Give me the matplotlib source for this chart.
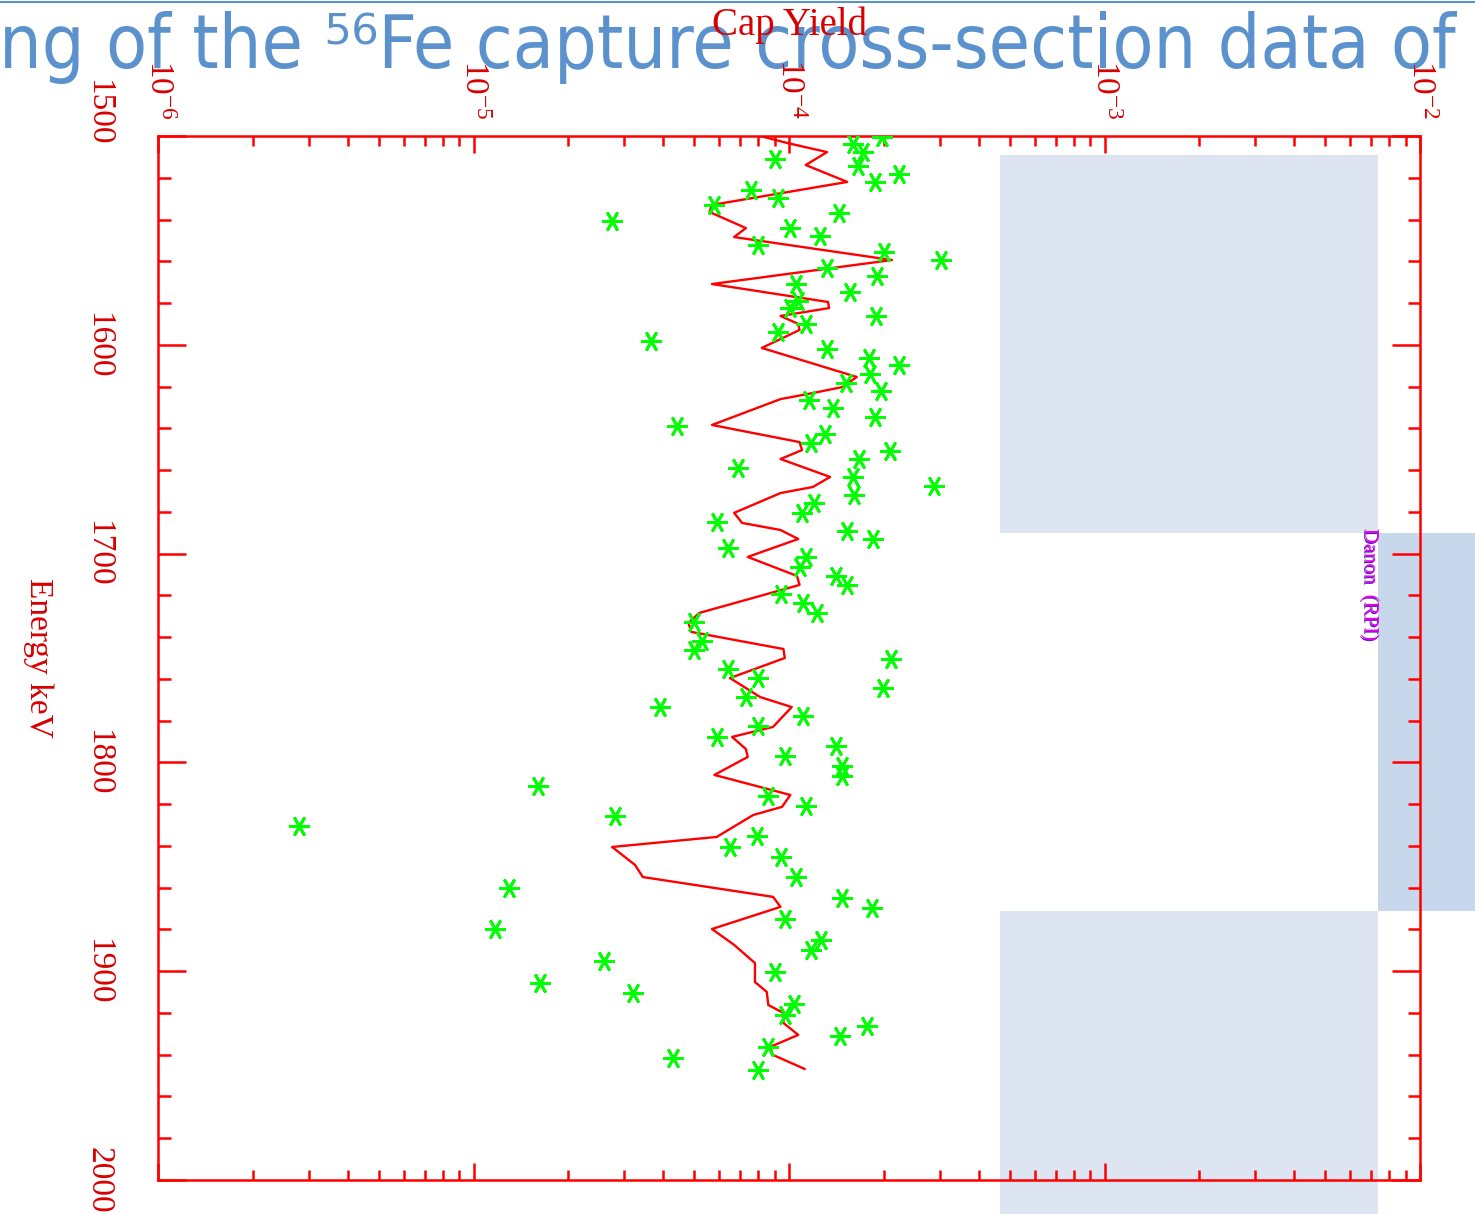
import matplotlib
matplotlib.use('Agg')
import matplotlib.pyplot as plt
import matplotlib.patheffects as pe
import matplotlib.transforms as mtransforms
from matplotlib import font_manager
from matplotlib.patches import Rectangle
from matplotlib.lines import Line2D
from matplotlib.ticker import MultipleLocator, LogLocator, NullFormatter, FixedLocator

# calculated capture yield (red curve)
line_energy = [1500.0, 1503.4, 1507.7, 1513.9, 1522.0, 1533.0, 1536.4, 1544.1, 1548.4, 1559.4,
               1570.9, 1579.5, 1582.4, 1586.2, 1590.0, 1592.9, 1601.5, 1615.4, 1620.2, 1623.1,
               1626.0, 1638.4, 1646.6, 1650.4, 1654.7, 1663.3, 1668.1, 1671.0, 1680.5, 1685.3,
               1688.7, 1693.0, 1701.6, 1710.7, 1715.0, 1728.4, 1733.2, 1737.5, 1745.7, 1750.0,
               1759.6, 1768.7, 1773.5, 1783.0, 1787.8, 1793.6, 1797.4, 1806.0, 1815.6, 1821.3,
               1825.2, 1835.7, 1840.5, 1849.1, 1854.9, 1864.4, 1869.2, 1879.8, 1887.4, 1896.1,
               1905.2, 1909.9, 1916.2, 1920.0, 1924.8, 1930.5, 1936.3, 1940.1, 1946.8]
line_yield = [8.1e-5, 9.9e-5, 1.32e-4, 1.13e-4, 1.53e-4, 5.7e-5, 5.6e-5, 7.3e-5, 6.7e-5, 2.12e-4,
              5.7e-5, 1.33e-4, 1.34e-4, 9.4e-5, 1.07e-4, 1.08e-4, 8.2e-5, 1.64e-4, 1.48e-4, 1.19e-4,
              9.4e-5, 5.7e-5, 1.08e-4, 1.10e-4, 9.4e-5, 1.35e-4, 1.19e-4, 9.4e-5, 6.7e-5, 7.1e-5,
              9.4e-5, 1.07e-4, 7.4e-5, 1.06e-4, 1.08e-4, 5.2e-5, 4.8e-5, 4.9e-5, 9.6e-5, 9.7e-5,
              6.5e-5, 8.1e-5, 1.02e-4, 8.9e-5, 6.6e-5, 7.3e-5, 7.4e-5, 5.8e-5, 1.01e-4, 9.5e-5,
              7.7e-5, 5.9e-5, 2.75e-5, 3.25e-5, 3.44e-5, 8.9e-5, 9.4e-5, 5.7e-5, 6.7e-5, 7.8e-5,
              7.8e-5, 8.5e-5, 8.6e-5, 9.6e-5, 9.6e-5, 1.07e-4, 8.7e-5, 8.9e-5, 1.12e-4]

# measured points (green asterisks)
pt_energy = [1500.5, 1503.8, 1507.7, 1511.0, 1514.4, 1518.2, 1522.0, 1525.9, 1529.7, 1533.0,
             1536.9, 1540.7, 1544.1, 1547.9, 1552.2, 1555.6, 1559.4, 1563.2, 1567.0, 1570.9,
             1574.7, 1579.0, 1582.4, 1586.2, 1590.0, 1593.9, 1598.2, 1602.0, 1606.3, 1609.7,
             1614.0, 1618.3, 1622.1, 1626.4, 1630.3, 1634.6, 1638.9, 1642.7, 1647.0, 1650.8,
             1654.7, 1659.0, 1663.3, 1667.6, 1671.9, 1675.7, 1680.5, 1684.8, 1689.2, 1693.0,
             1697.3, 1701.6, 1706.4, 1710.7, 1715.0, 1719.3, 1723.6, 1728.4, 1732.7, 1741.8,
             1746.2, 1750.5, 1755.3, 1759.6, 1764.4, 1768.7, 1773.5, 1777.8, 1782.6, 1787.8,
             1792.1, 1796.9, 1801.7, 1806.5, 1811.3, 1816.1, 1820.9, 1825.7, 1830.5, 1835.2,
             1840.5, 1845.3, 1854.9, 1860.1, 1864.9, 1869.7, 1874.9, 1879.8, 1885.1, 1889.8,
             1895.1, 1900.4, 1905.6, 1910.4, 1915.7, 1921.0, 1926.2, 1931.0, 1936.3, 1941.6,
             1947.3]
pt_yield = [1.97e-4, 1.60e-4, 1.72e-4, 9.0e-5, 1.66e-4, 2.23e-4, 1.87e-4, 7.6e-5, 9.2e-5, 5.8e-5,
            1.44e-4, 2.75e-5, 1.01e-4, 1.25e-4, 8.0e-5, 2.00e-4, 3.03e-4, 1.32e-4, 1.90e-4, 1.05e-4,
            1.56e-4, 1.07e-4, 1.01e-4, 1.89e-4, 1.13e-4, 9.2e-5, 3.65e-5, 1.32e-4, 1.79e-4, 2.23e-4,
            1.81e-4, 1.52e-4, 1.96e-4, 1.16e-4, 1.38e-4, 1.87e-4, 4.4e-5, 1.30e-4, 1.17e-4, 2.09e-4,
            1.67e-4, 6.9e-5, 1.60e-4, 2.88e-4, 1.61e-4, 1.20e-4, 1.10e-4, 5.9e-5, 1.53e-4, 1.85e-4,
            6.4e-5, 1.13e-4, 1.08e-4, 1.41e-4, 1.53e-4, 9.4e-5, 1.11e-4, 1.23e-4, 5.0e-5, 5.3e-5,
            5.0e-5, 2.10e-4, 6.4e-5, 8.0e-5, 1.99e-4, 7.3e-5, 3.9e-5, 1.11e-4, 8.0e-5, 5.9e-5,
            1.41e-4, 9.7e-5, 1.47e-4, 1.47e-4, 1.60e-5, 8.6e-5, 1.13e-4, 2.8e-5, 2.8e-6, 7.9e-5,
            6.5e-5, 9.4e-5, 1.05e-4, 1.3e-5, 1.47e-4, 1.83e-4, 9.7e-5, 1.17e-5, 1.26e-4, 1.17e-4,
            2.6e-5, 9.0e-5, 1.62e-5, 3.2e-5, 1.04e-4, 9.7e-5, 1.77e-4, 1.45e-4, 8.6e-5, 4.3e-5,
            8.0e-5]

energy_ticks = [1500, 1600, 1700, 1800, 1900, 2000]
yield_ticks = [1e-6, 1e-5, 1e-4, 1e-3, 1e-2]
yield_labels = [r'$10^{-6}$', r'$10^{-5}$', r'$10^{-4}$', r'$10^{-3}$', r'$10^{-2}$']

RED = '#FF0000'
LBL = '#D80000'
BLUE = '#5B92CD'

W, H = 1475, 1214
fig = plt.figure(figsize=(W / 100, H / 100), dpi=100)


def fx(px):
    return px / W


def fy(py):
    return 1 - py / H


avail = {f.name for f in font_manager.fontManager.ttflist}
serif = 'Liberation Serif' if 'Liberation Serif' in avail else 'DejaVu Serif'
title_font = 'Liberation Sans Narrow' if 'Liberation Sans Narrow' in avail else 'DejaVu Sans'
plt.rcParams['mathtext.fontset'] = 'custom'
plt.rcParams['mathtext.rm'] = serif
plt.rcParams['mathtext.it'] = serif

# slide background shapes
for x0, y0, x1, y1, c in [(1000, 155, 1378, 533, '#DCE5F1'),
                          (1378, 533, 1475, 911, '#C8D8EC'),
                          (1000, 911, 1378, 1214, '#DCE5F1')]:
    fig.add_artist(Rectangle((fx(x0), fy(y1)), fx(x1) - fx(x0), fy(y0) - fy(y1),
                             transform=fig.transFigure, color=c, lw=0, zorder=-5))
fig.add_artist(Line2D([0, 1], [fy(1.5), fy(1.5)], transform=fig.transFigure,
                      color=BLUE, lw=1.5, zorder=-4))

title = fig.text(fx(-1), fy(68), 'ng of the \u2075\u2076Fe capture cross-section data of',
                 color=BLUE, fontsize=50, ha='left', va='baseline', fontstretch='condensed',
                 family=[title_font, 'DejaVu Sans'], zorder=-3)
fig.canvas.draw()
bb = title.get_window_extent()
title.set_fontsize(50 * 1457 / bb.width)

ax = fig.add_axes([fx(158), fy(1180), fx(1420) - fx(158), fy(136) - fy(1180)])
ax.set_facecolor('none')

ax.plot(line_yield, line_energy, color=RED, lw=1.7, zorder=3)
ax.plot(pt_yield, pt_energy, ls='none', marker=(6, 2, 90), ms=15, mew=2.0,
        color='#00FF00', zorder=4)

ax.set_xscale('log')
ax.set_xlim(1e-6, 1e-2)
ax.set_ylim(2000, 1500)

ax.xaxis.set_major_locator(FixedLocator(yield_ticks))
ax.set_xticklabels(yield_labels)
ax.xaxis.set_minor_locator(LogLocator(base=10, subs=range(2, 10)))
ax.xaxis.set_minor_formatter(NullFormatter())
ax.yaxis.set_major_locator(FixedLocator(energy_ticks))
ax.yaxis.set_minor_locator(MultipleLocator(20))

for s in ax.spines.values():
    s.set_color(RED)
    s.set_linewidth(1.8)

ax.tick_params(axis='x', which='both', direction='in', top=True, bottom=True,
               labeltop=True, labelbottom=False, color=RED, width=1.8)
ax.tick_params(axis='x', which='major', length=12, pad=12, labelsize=24,
               labelcolor=LBL, labelrotation=-90)
ax.tick_params(axis='x', which='minor', length=7)
ax.tick_params(axis='y', which='both', direction='in', left=True, right=True,
               color=RED, width=1.8)
ax.tick_params(axis='y', which='major', length=20, pad=43, labelsize=24,
               labelcolor=LBL, labelrotation=-90)
ax.tick_params(axis='y', which='minor', length=9)

for lab in ax.get_xticklabels():
    lab.set_family(serif)
for lab in ax.get_yticklabels():
    lab.set_family(serif)
    lab.set_ha('center')
    lab.set_va('center')

# the 1500 label sits above its tick in the original
first = ax.yaxis.get_major_ticks()[0].label1
first.set_transform(first.get_transform()
                    + mtransforms.ScaledTranslation(0, 24 / 100, fig.dpi_scale_trans))

ax.set_xlabel('Cap Yield', color=LBL, fontsize=28, family=serif)
ax.xaxis.set_label_position('top')
ax.xaxis.set_label_coords(0.5, (1180 - 25) / 1044)
ax.xaxis.label.set_va('center')

ax.set_ylabel('Energy keV', color=LBL, fontsize=24, family=serif, rotation=-90)
ax.yaxis.set_label_coords((38 - 158) / 1262, 0.5)
ax.yaxis.label.set_va('center')
ax.yaxis.label.set_ha('center')

fig.text(fx(1370), fy(585), 'Danon  (RPI)', color='#E800E8', fontsize=15, family=serif,
         rotation=-90, ha='center', va='center',
         path_effects=[pe.withSimplePatchShadow(offset=(-0.8, -0.8), shadow_rgbFace='#5020C0', alpha=1)])

fig.savefig('out.png', dpi=100)
